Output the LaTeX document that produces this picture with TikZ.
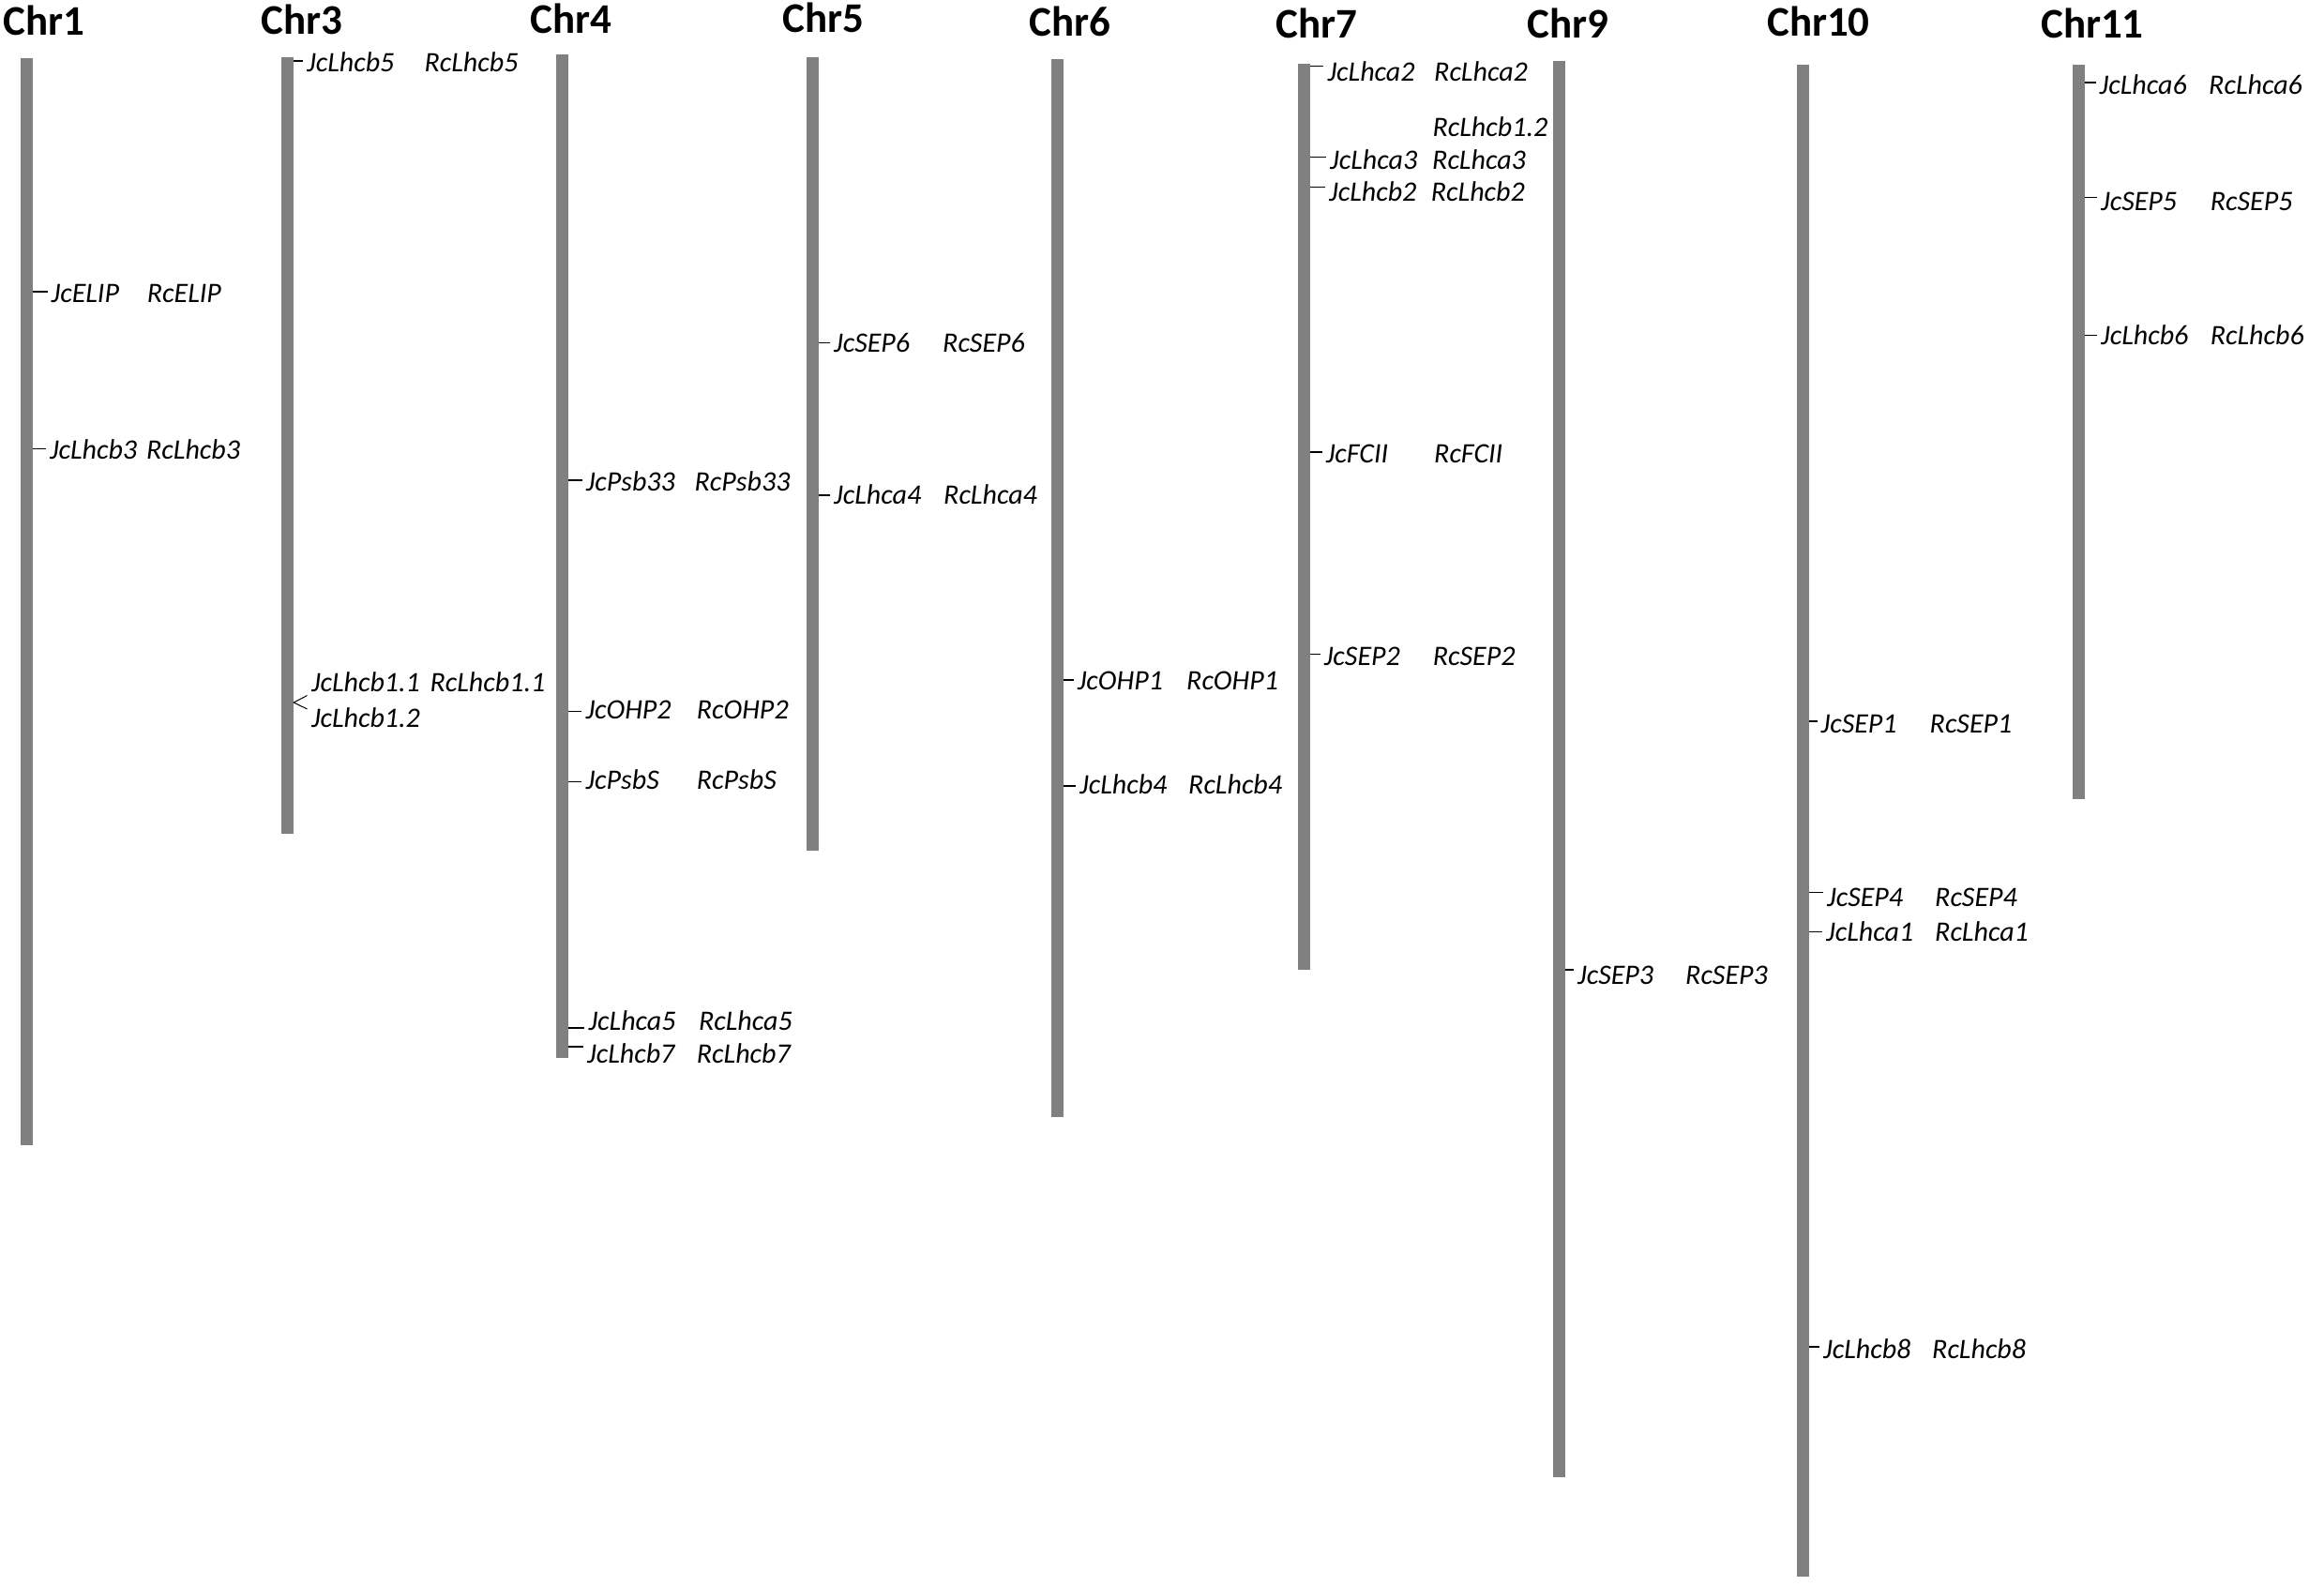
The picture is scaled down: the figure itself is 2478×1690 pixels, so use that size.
\documentclass[tikz,border=0pt]{standalone}
\usepackage{fontspec}
\setmainfont{Carlito}
\definecolor{barc}{RGB}{128,128,128}
\tikzset{
  chrbar/.style={rectangle, fill=barc, draw=none, inner sep=0pt, minimum width=13pt, anchor=north},
  chrtitle/.style={anchor=base west, inner sep=0pt, font=\fontsize{45}{50}\selectfont\bfseries},
  genelab/.style={anchor=base west, inner sep=0pt, font=\fontsize{30}{34}\selectfont\itshape},
  tickln/.style={draw=black, line width=1.3pt}
}
\newcommand{\genepair}[8]{%
  \node[genelab] (#1j) at (#4,#6) {#7};
  \node[genelab] (#1r) at (#5,#6) {#8};
  \coordinate (#1t) at (#4-4,#3);
  \draw[tickln] (#2.east |- #1t) -- (#1t);
}
\begin{document}
\begin{tikzpicture}[x=1pt,y=-1pt]
\useasboundingbox (0,0) rectangle (2478,1690);
% titles
\node[chrtitle] (t1)  at (3,37.5)  {Chr1};
\node[chrtitle] (t3)  at (278,36)  {Chr3};
\node[chrtitle] (t4)  at (565,35)  {Chr4};
\node[chrtitle] (t5)  at (834,34.5){Chr5};
\node[chrtitle] (t6)  at (1097,38) {Chr6};
\node[chrtitle] (t7)  at (1360,40) {Chr7};
\node[chrtitle] (t9)  at (1628,40) {Chr9};
\node[chrtitle] (t10) at (1884,38) {Chr10};
\node[chrtitle] (t11) at (2176,40) {Chr11};
% chromosome bars
\node[chrbar, minimum height=1159pt] (c1)  at (28,62) {};
\node[chrbar, minimum height=828pt]  (c3)  at (306.5,61) {};
\node[chrbar, minimum height=1070pt] (c4)  at (599.5,57.5) {};
\node[chrbar, minimum height=846pt]  (c5)  at (866.5,61) {};
\node[chrbar, minimum height=1128pt] (c6)  at (1127,63) {};
\node[chrbar, minimum height=966pt]  (c7)  at (1390.5,68) {};
\node[chrbar, minimum height=1510pt] (c9)  at (1662,65) {};
\node[chrbar, minimum height=1612pt] (c10) at (1922.5,69) {};
\node[chrbar, minimum height=783pt]  (c11) at (2216,69) {};
% Chr1
\genepair{ga}{c1}{311}{54.5}{156.7}{322.5}{JcELIP}{RcELIP}
\genepair{gb}{c1}{478.4}{52.8}{156}{489}{JcLhcb3}{RcLhcb3}
% Chr3
\genepair{gc}{c3}{65}{327}{452.4}{76.5}{JcLhcb5}{RcLhcb5}
\node[genelab] (gdj) at (331.8,737.3) {JcLhcb1.1};
\node[genelab] (gdr) at (458.4,737.3) {RcLhcb1.1};
\node[genelab] (gej) at (331.8,775.7) {JcLhcb1.2};
\coordinate (gdt) at (327.5,741.5);
\coordinate (get) at (327.5,756);
\coordinate (gapex) at (313,749);
\draw[black, line width=1pt] (gdt) -- (c3.east |- gapex) -- (get);
% Chr4
\genepair{gf}{c4}{512}{624.6}{740.5}{523.5}{JcPsb33}{RcPsb33}
\genepair{gg}{c4}{758.3}{624.4}{742.7}{766.7}{JcOHP2}{RcOHP2}
\genepair{gh}{c4}{833.3}{624.4}{742.7}{841.7}{JcPsbS}{RcPsbS}
\genepair{gi}{c4}{1096}{627.4}{744.8}{1098.3}{JcLhca5}{RcLhca5}
\genepair{gj}{c4}{1116}{626}{742.7}{1133}{JcLhcb7}{RcLhcb7}
% Chr5
\genepair{gk}{c5}{365.5}{889}{1005}{375}{JcSEP6}{RcSEP6}
\genepair{gl}{c5}{528}{889}{1006}{537.7}{JcLhca4}{RcLhca4}
% Chr6
\genepair{gm}{c6}{725}{1148.7}{1265}{735.9}{JcOHP1}{RcOHP1}
\genepair{gn}{c6}{838}{1151}{1267}{846.8}{JcLhcb4}{RcLhcb4}
% Chr7
\genepair{go}{c7}{70.8}{1415.4}{1529}{86}{JcLhca2}{RcLhca2}
\node[genelab] (gpr) at (1527.4,145.4) {RcLhcb1.2};
\genepair{gq}{c7}{167.6}{1418}{1527}{180.6}{JcLhca3}{RcLhca3}
\genepair{gr}{c7}{199.8}{1417}{1525.7}{214}{JcLhcb2}{RcLhcb2}
\genepair{gs}{c7}{482}{1413.7}{1529}{493}{JcFCII}{RcFCII}
\genepair{gt}{c7}{697.6}{1411.7}{1527.6}{709}{JcSEP2}{RcSEP2}
% Chr9
\genepair{gu}{c9}{1034}{1682}{1797}{1049}{JcSEP3}{RcSEP3}
% Chr10
\genepair{gv}{c10}{769}{1941.5}{2057.5}{781}{JcSEP1}{RcSEP1}
\genepair{gw}{c10}{951.4}{1948}{2063}{966}{JcSEP4}{RcSEP4}
\genepair{gx}{c10}{993.5}{1947}{2063}{1003}{JcLhca1}{RcLhca1}
\genepair{gy}{c10}{1436}{1944}{2060}{1448}{JcLhcb8}{RcLhcb8}
% Chr11
\genepair{gz}{c11}{88}{2238.5}{2355}{100}{JcLhca6}{RcLhca6}
\genepair{gaa}{c11}{210.5}{2240}{2356.6}{224}{JcSEP5}{RcSEP5}
\genepair{gab}{c11}{357.8}{2240}{2356.6}{367.4}{JcLhcb6}{RcLhcb6}
\end{tikzpicture}
\end{document}
